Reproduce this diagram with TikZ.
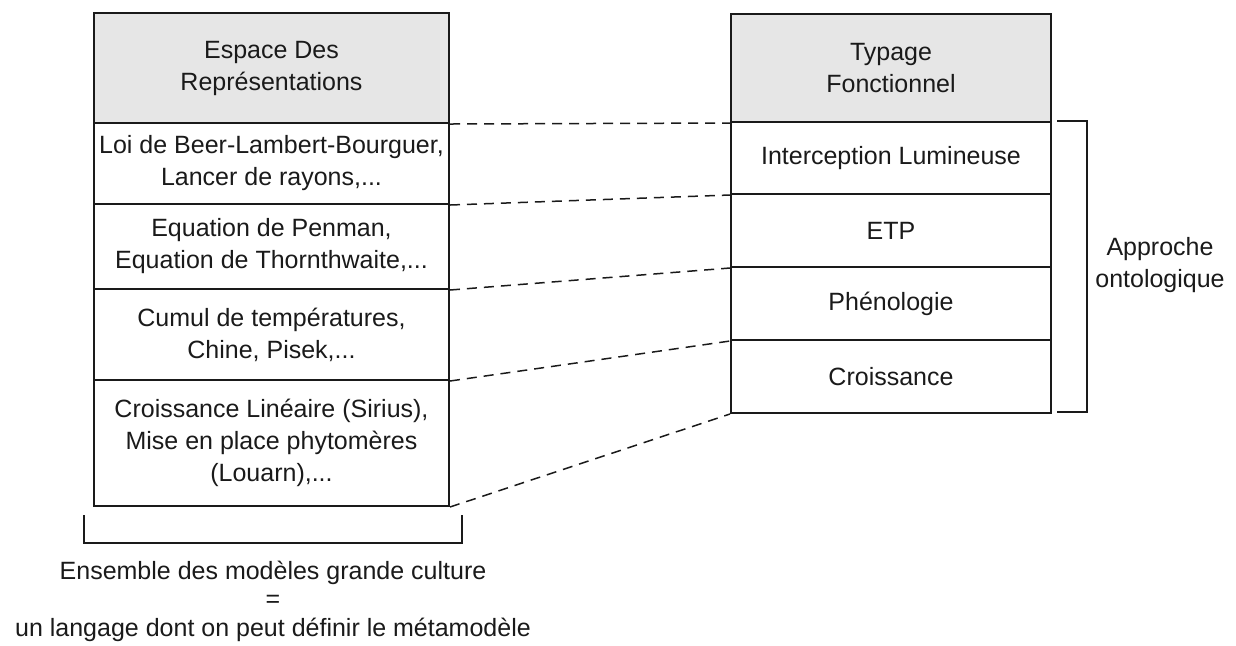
\documentclass[tikz,border=0pt]{standalone}
\usepackage{fontspec}
\setmainfont{Liberation Sans}
\definecolor{headgray}{HTML}{E6E6E6}
\definecolor{inkline}{HTML}{1A1A1A}
\begin{document}
\begin{tikzpicture}[x=0.5pt,y=-0.5pt,
  every node/.style={font=\fontsize{12.5}{16}\selectfont, text=inkline},
  cell/.style={draw=inkline, line width=1pt, anchor=north west, inner sep=0pt,
    align=center, minimum width=#1},
  lcell/.style={cell=177.5pt},
  rcell/.style={cell=160pt},
  head/.style={fill=headgray},
  link/.style={draw=inkline, line width=0.75pt, dash pattern=on 5pt off 3.5pt},
  brace/.style={draw=inkline, line width=0.9pt}]
\useasboundingbox (0,0) rectangle (1236,645);

% left column: representation space
\node[lcell, head, minimum height=55pt] (L0) at (93,12) {Espace Des\\Représentations};
\node[lcell, minimum height=40.5pt] (L1) at (93,122) {Loi de Beer-Lambert-Bourguer,\\Lancer de rayons,...};
\node[lcell, minimum height=42.5pt] (L2) at (93,203) {Equation de Penman,\\Equation de Thornthwaite,...};
\node[lcell, minimum height=45.5pt] (L3) at (93,288) {Cumul de températures,\\Chine, Pisek,...};
\node[lcell, minimum height=63pt] (L4) at (93,379) {Croissance Linéaire (Sirius),\\Mise en place phytomères\\(Louarn),...};

% right column: functional typing
\node[rcell, head, minimum height=54pt] (R0) at (730,13) {Typage\\Fonctionnel};
\node[rcell, minimum height=36pt] (R1) at (730,121) {Interception Lumineuse};
\node[rcell, minimum height=36.5pt] (R2) at (730,193) {ETP};
\node[rcell, minimum height=36.5pt] (R3) at (730,266) {Phénologie};
\node[rcell, minimum height=36.5pt] (R4) at (730,339) {Croissance};

% dashed correspondences between the two columns
\draw[link] (L0.south east) -- (R0.south west);
\draw[link] (L1.south east) -- (R1.south west);
\draw[link] (L2.south east) -- (R2.south west);
\draw[link] (L3.south east) -- (R3.south west);
\draw[link] (L4.south east) -- (R4.south west);

% right bracket
\coordinate (rb1) at (1057,121);
\coordinate (rb2) at (1087,121);
\coordinate (rb3) at (1087,412);
\coordinate (rb4) at (1057,412);
\draw[brace] (rb1) -- (rb2) -- (rb3) -- (rb4);
\node[align=center] (appr) at (1160,265) {Approche\\ontologique};

% bottom bracket
\coordinate (bb1) at (84,515);
\coordinate (bb2) at (84,543);
\coordinate (bb3) at (462,543);
\coordinate (bb4) at (462,515);
\draw[brace] (bb1) -- (bb2) -- (bb3) -- (bb4);
\node[align=center, font=\fontsize{12.5}{14.2}\selectfont] (ens) at (273,601) {Ensemble des modèles grande culture\\=\\un langage dont on peut définir le métamodèle};
\end{tikzpicture}
\end{document}
